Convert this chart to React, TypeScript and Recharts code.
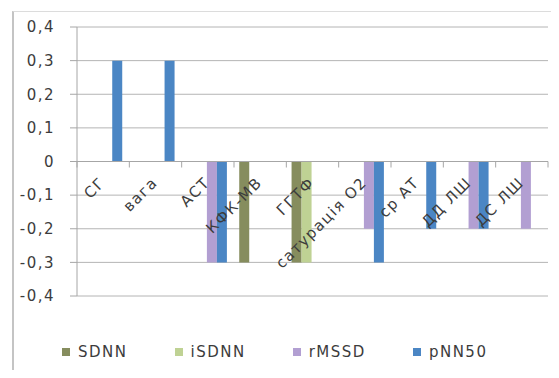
import { BarChart, Bar, XAxis, YAxis, CartesianGrid, ReferenceLine, Legend } from "recharts";

const categories = ["СГ", "вага", "АСТ", "КФК-МВ", "ГГТФ", "сатурація О2", "ср АТ", "ДД ЛШ", "ДС ЛШ"];
const sdnn = [0, 0, 0, -0.3, -0.3, 0, 0, 0, 0];
const isdnn = [0, 0, 0, 0, -0.3, 0, 0, 0, 0];
const rmssd = [0, 0, -0.3, 0, 0, -0.2, 0, -0.2, -0.2];
const pnn50 = [0.3, 0.3, -0.3, 0, 0, -0.3, -0.2, -0.2, 0];
const yTicks = [-0.4, -0.3, -0.2, -0.1, 0, 0.1, 0.2, 0.3, 0.4];

const series = [
  { key: "SDNN", color: "#868d5e" },
  { key: "iSDNN", color: "#bfd294" },
  { key: "rMSSD", color: "#b29fd2" },
  { key: "pNN50", color: "#4b86c4" },
];

const data = categories.map((name, i) => ({
  name,
  SDNN: sdnn[i],
  iSDNN: isdnn[i],
  rMSSD: rmssd[i],
  pNN50: pnn50[i],
}));

const W = 559;
const H = 378;
const M = { top: 27, right: 11, bottom: 0, left: 0 };
const Y_W = 77;
const X_H = 82;
const PLOT_W = W - M.left - M.right - Y_W;
const PLOT_H = H - M.top - M.bottom - X_H;
const BAND = PLOT_W / categories.length;

const textStyle = { fontFamily: "DejaVu Sans", fontSize: 15, letterSpacing: 1.5, fill: "#3c3c3c" };

const fmt = (v: number) => (v === 0 ? "0" : v.toFixed(1).replace(".", ","));

// category labels sit under the zero line, not at the plot bottom
function CategoryTick(props: any) {
  const { x, y, payload, index } = props;
  const zeroY = y - PLOT_H / 2;
  const lx = x + 3;
  const ly = zeroY + 22;
  return (
    <g>
      {index === 0 && (
        <line x1={x - BAND / 2} x2={x - BAND / 2} y1={zeroY} y2={zeroY + 6} stroke="#a6a6a6" />
      )}
      <line x1={x + BAND / 2} x2={x + BAND / 2} y1={zeroY} y2={zeroY + 6} stroke="#a6a6a6" />
      <text x={lx} y={ly} textAnchor="end" transform={`rotate(-45 ${lx} ${ly})`} style={textStyle}>
        {payload.value}
      </text>
    </g>
  );
}

function LegendContent() {
  return (
    <div style={{ display: "flex", alignItems: "center", paddingLeft: 62, gap: 47 }}>
      {series.map((s) => (
        <div key={s.key} style={{ display: "flex", alignItems: "center" }}>
          <span style={{ width: 8, height: 8, background: s.color, marginRight: 8, display: "inline-block" }} />
          <span style={{ fontFamily: "DejaVu Sans", fontSize: 15, letterSpacing: 1.5, color: "#3c3c3c" }}>
            {s.key}
          </span>
        </div>
      ))}
    </div>
  );
}

export default function App() {
  return (
    <div style={{ position: "relative", width: W, height: H, margin: -8, background: "#fff", overflow: "hidden" }}>
      <div
        style={{
          position: "absolute",
          left: 12,
          top: 11,
          width: 540,
          height: 380,
          borderLeft: "2px solid #c4c4c4",
          borderTop: "1px solid #dcdcdc",
          borderRight: "1px solid #ececec",
        }}
      />
      <BarChart width={W} height={H} data={data} margin={M} barCategoryGap="10%" barGap={0}>
        <CartesianGrid vertical={false} stroke="#b4b4b4" />
        <XAxis
          dataKey="name"
          height={X_H}
          axisLine={false}
          tickLine={false}
          tickSize={0}
          tickMargin={0}
          interval={0}
          tick={<CategoryTick />}
        />
        <YAxis
          width={Y_W}
          domain={[-0.4, 0.4]}
          ticks={yTicks}
          tickFormatter={fmt}
          stroke="#a6a6a6"
          tickSize={7}
          tickMargin={15}
          tick={textStyle}
        />
        <ReferenceLine y={0} stroke="#a6a6a6" />
        {series.map((s) => (
          <Bar key={s.key} dataKey={s.key} fill={s.color} isAnimationActive={false} />
        ))}
        <Legend
          layout="horizontal"
          verticalAlign="middle"
          wrapperStyle={{ top: 343, left: 0, width: W }}
          content={<LegendContent />}
        />
      </BarChart>
    </div>
  );
}
